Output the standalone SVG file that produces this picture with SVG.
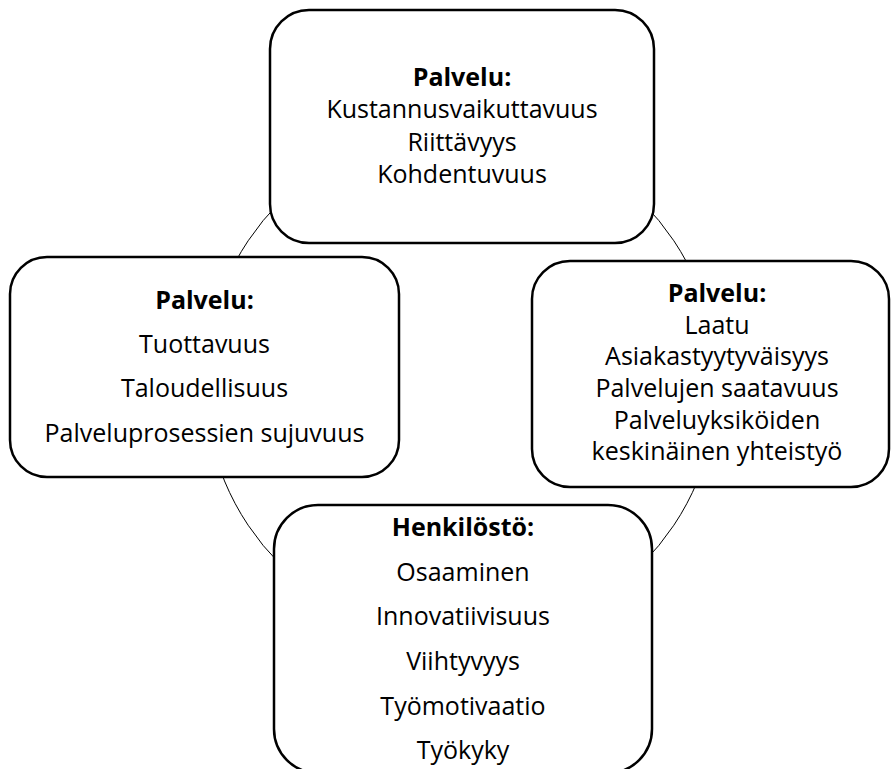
<svg xmlns="http://www.w3.org/2000/svg" width="891" height="769" viewBox="0 0 891 769">
<style>
.box{fill:#fff;stroke:#000;stroke-width:2.5}
.ring{fill:none;stroke:#000;stroke-width:1}
text{font-family:"Open Sans","Noto Sans","Liberation Sans",sans-serif;font-size:25px;fill:#000;text-anchor:middle}
.b{font-weight:bold}
</style>
<rect width="891" height="769" fill="#fff"/>
<g id="connectors">
<circle class="ring" cx="461" cy="383" r="256"/>
</g>
<g id="top">
<rect class="box" x="270" y="10" width="384" height="233" rx="39" ry="39"/>
<text class="b" x="462" y="86">Palvelu:</text>
<text x="462" y="118">Kustannusvaikuttavuus</text>
<text x="462" y="151">Riittävyys</text>
<text x="462" y="183">Kohdentuvuus</text>
</g>
<g id="left">
<rect class="box" x="10" y="257" width="389" height="220" rx="37" ry="37"/>
<text class="b" x="204.5" y="309">Palvelu:</text>
<text x="204.5" y="353">Tuottavuus</text>
<text x="204.5" y="397">Taloudellisuus</text>
<text x="204.5" y="442">Palveluprosessien sujuvuus</text>
</g>
<g id="right">
<rect class="box" x="532" y="261" width="357" height="226" rx="38" ry="38"/>
<text class="b" x="717" y="302">Palvelu:</text>
<text x="717" y="333.5">Laatu</text>
<text x="717" y="365">Asiakastyytyväisyys</text>
<text x="717" y="396.5">Palvelujen saatavuus</text>
<text x="717" y="428.5">Palveluyksiköiden</text>
<text x="717" y="460">keskinäinen yhteistyö</text>
</g>
<g id="bottom">
<rect class="box" x="274" y="505" width="378" height="268" rx="44" ry="44"/>
<text class="b" x="463" y="536">Henkilöstö:</text>
<text x="463" y="580.5">Osaaminen</text>
<text x="463" y="625">Innovatiivisuus</text>
<text x="463" y="670">Viihtyvyys</text>
<text x="463" y="714.5">Työmotivaatio</text>
<text x="463" y="759">Työkyky</text>
</g>
</svg>
